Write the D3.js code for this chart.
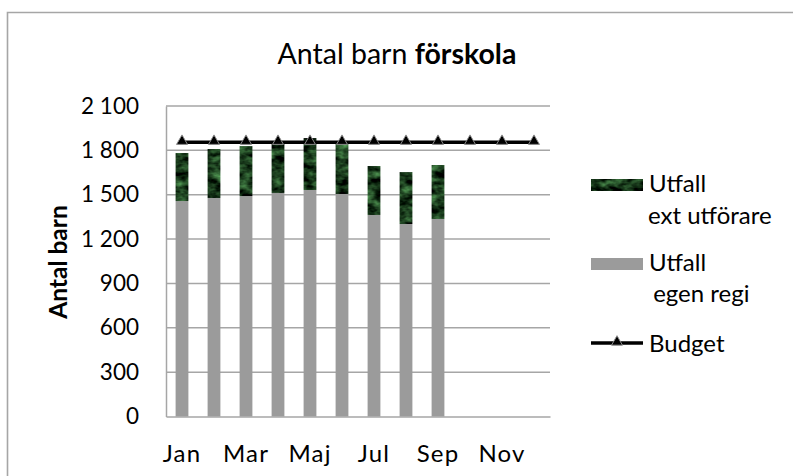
<!DOCTYPE html>
<html><head><meta charset="utf-8">
<script src="https://cdn.jsdelivr.net/npm/d3@7"></script>
<style>
html,body{margin:0;padding:0;background:#fff;}
svg{display:block;font-family:Lato, "Open Sans", sans-serif;}
</style></head>
<body>
<svg id="c" width="793" height="476"></svg>
<script>
const months = ["Jan","Feb","Mar","Apr","Maj","Jun","Jul","Aug","Sep","Okt","Nov","Dec"];
const shownMonths = ["Jan","Mar","Maj","Jul","Sep","Nov"];
const egenRegi = [1457,1478,1491,1512,1532,1505,1363,1302,1336,null,null,null];
const extUtforare = [325,331,338,340,351,345,331,351,365,null,null,null];
const budget = [1855,1855,1855,1855,1855,1855,1855,1855,1855,1855,1855,1855];
const yTicks = [0,300,600,900,1200,1500,1800,2100];
const yTickLabels = ["0","300","600","900","1 200","1 500","1 800","2 100"];
const title = ["Antal barn ", "förskola"];
const yTitle = "Antal barn";
const legendLabels = [["Utfall","ext utförare"],["Utfall"," egen regi"],["Budget"]];

const svg = d3.select("#c");
const L = 166, R = 550, T = 106, B = 416.5;
const gridCol = "#a6a6a6";

// marble texture filter
const defs = svg.append("defs");
const f = defs.append("filter").attr("id","marble").attr("x","0").attr("y","0").attr("width","1").attr("height","1")
  .attr("color-interpolation-filters","sRGB");
f.append("feTurbulence").attr("type","fractalNoise").attr("baseFrequency","0.08 0.14").attr("numOctaves",3).attr("seed",7).attr("result","n");
f.append("feColorMatrix").attr("in","n").attr("type","matrix")
 .attr("values","0.6 0 0 0 -0.2  1.0 0 0 0 -0.27  0.6 0 0 0 -0.19  0 0 0 0 1").attr("result","c");
f.append("feComposite").attr("in","c").attr("in2","SourceGraphic").attr("operator","in");

// outer border (top and left visible)
svg.append("path").attr("d","M7.5,476 V12.5 H793").attr("fill","none").attr("stroke",gridCol).attr("stroke-width",1.6);

const x = d3.scaleBand().domain(months).range([L,R]).paddingInner(0.6).paddingOuter(0.3);
const y = d3.scaleLinear().domain([0,2100]).range([B,T]);

// gridlines
svg.append("g").selectAll("line").data(yTicks.slice(1)).join("line")
  .attr("x1",L).attr("x2",R).attr("y1",d=>y(d)).attr("y2",d=>y(d))
  .attr("stroke",gridCol).attr("stroke-width",1.5);

// y axis
const yAxis = d3.axisLeft(y).tickValues(yTicks).tickSize(0).tickPadding(27)
  .tickFormat((d,i)=>yTickLabels[i]);
const gy = svg.append("g").attr("transform",`translate(${L},0)`).call(yAxis);
gy.select(".domain").attr("stroke",gridCol).attr("stroke-width",1.5);
gy.selectAll("text").attr("font-size",22.5).attr("fill","#000").attr("font-family","Lato");

// x axis
const xAxis = d3.axisBottom(x).tickSize(0).tickPadding(28)
  .tickFormat(d=>shownMonths.includes(d)?d:"");
const gx = svg.append("g").attr("transform",`translate(0,${B})`).call(xAxis);
gx.select(".domain").attr("stroke",gridCol).attr("stroke-width",1.5);
gx.selectAll("text").attr("font-size",24).attr("letter-spacing",1.2).attr("fill","#000").attr("font-family","Lato");

// bars
const bars = svg.append("g");
months.forEach((m,i)=>{
  if(egenRegi[i]==null) return;
  bars.append("rect").attr("x",x(m)).attr("width",x.bandwidth())
    .attr("y",y(egenRegi[i])).attr("height",y(0)-y(egenRegi[i])).attr("fill","#9b9b9b");
  bars.append("rect").attr("x",x(m)).attr("width",x.bandwidth())
    .attr("y",y(egenRegi[i]+extUtforare[i])).attr("height",y(egenRegi[i])-y(egenRegi[i]+extUtforare[i]))
    .attr("fill","#1f4a2a").attr("filter","url(#marble)");
});

// budget line
const line = d3.line().x((d,i)=>x(months[i])+x.bandwidth()/2).y(d=>y(d));
svg.append("path").datum(budget).attr("d",line).attr("fill","none").attr("stroke","#000").attr("stroke-width",3.5);
const tri = d3.symbol().type(d3.symbolTriangle).size(52);
svg.append("g").selectAll("path").data(budget).join("path")
  .attr("transform",(d,i)=>`translate(${x(months[i])+x.bandwidth()/2},${y(d)-1})`)
  .attr("d",tri).attr("fill","#000").attr("stroke","#8c8c8c").attr("stroke-width",1);

// title
const tt = svg.append("text").attr("x",397).attr("y",64).attr("text-anchor","middle")
  .attr("font-size",28.5).attr("fill","#000");
tt.append("tspan").text(title[0]);
tt.append("tspan").attr("font-weight","bold").text(title[1]);

// y title
svg.append("text").attr("transform","translate(67,262) rotate(-90)").attr("text-anchor","middle")
  .attr("font-size",24.5).attr("font-weight","bold").attr("fill","#000").text(yTitle);

// legend
const lg = svg.append("g").attr("font-size",24).attr("fill","#000");
lg.append("rect").attr("x",591).attr("y",179).attr("width",52).attr("height",12).attr("fill","#1f4a2a").attr("filter","url(#marble)");
lg.append("text").attr("x",649).attr("y",192).text(legendLabels[0][0]);
lg.append("text").attr("x",648).attr("y",224).text(legendLabels[0][1]);
lg.append("rect").attr("x",591).attr("y",258).attr("width",52).attr("height",12).attr("fill","#9b9b9b");
lg.append("text").attr("x",649).attr("y",271).text(legendLabels[1][0]);
lg.append("text").attr("x",647).attr("y",302).attr("xml:space","preserve").text(legendLabels[1][1]);
lg.append("line").attr("x1",591).attr("x2",643).attr("y1",343).attr("y2",343).attr("stroke","#000").attr("stroke-width",3.5);
lg.append("path").attr("transform","translate(617,342)").attr("d",tri).attr("fill","#000").attr("stroke","#8c8c8c");
lg.append("text").attr("x",649).attr("y",352).text(legendLabels[2][0]);
</script>
</body></html>
